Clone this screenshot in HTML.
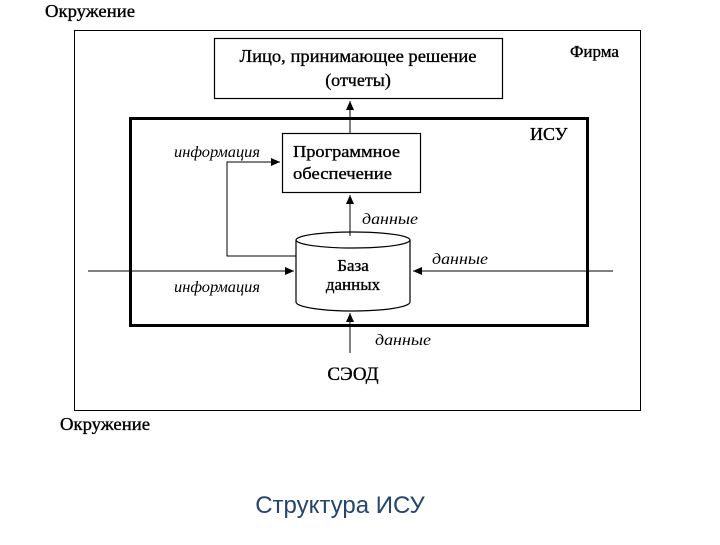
<!DOCTYPE html>
<html><head><meta charset="utf-8"><style>
body{margin:0;background:#fff;width:720px;height:540px;overflow:hidden}
</style></head><body>
<svg width="720" height="540" viewBox="0 0 720 540" xmlns="http://www.w3.org/2000/svg" font-family="'Liberation Serif', 'Noto Serif CJK SC', serif">
<defs><marker id="a" markerWidth="10" markerHeight="10" refX="9" refY="5" orient="auto" markerUnits="userSpaceOnUse"><path d="M0,1 L9,5 L0,9 z" fill="#000"/></marker></defs>
<g stroke="#000" stroke-width="0.35">
<text x="45" y="17" font-size="17.5" textLength="90" lengthAdjust="spacingAndGlyphs">Окружение</text>
<text x="358" y="62" font-size="18" text-anchor="middle" textLength="237" lengthAdjust="spacingAndGlyphs">Лицо, принимающее решение</text>
<text x="358" y="86" font-size="18" text-anchor="middle">(отчеты)</text>
<text x="570" y="57" font-size="17">Фирма</text>
<text x="530" y="140" font-size="18">ИСУ</text>
<text x="293" y="157" font-size="17" textLength="107" lengthAdjust="spacingAndGlyphs">Программное</text>
<text x="293" y="179" font-size="17" textLength="99" lengthAdjust="spacingAndGlyphs">обеспечение</text>
<text x="353" y="271" font-size="17" text-anchor="middle">База</text>
<text x="353" y="290" font-size="17" text-anchor="middle">данных</text>
<text x="353" y="380" font-size="19" text-anchor="middle">СЭОД</text>
<text x="60" y="430" font-size="17.5" textLength="90" lengthAdjust="spacingAndGlyphs">Окружение</text>
</g>
<rect x="74.5" y="30.5" width="566" height="380" fill="none" stroke="#000" stroke-width="1"/>
<rect x="214.5" y="38.5" width="288" height="60" fill="none" stroke="#000" stroke-width="1.2"/>
<rect x="130.5" y="118.5" width="457" height="207" fill="none" stroke="#000" stroke-width="3"/>
<rect x="282.5" y="133.5" width="138" height="59" fill="none" stroke="#000" stroke-width="1.2"/>
<line x1="350" y1="133" x2="350" y2="101" stroke="#000" marker-end="url(#a)"/>
<path d="M296,240 L296,302 A57,9 0 0 0 410,302 L410,240" fill="none" stroke="#000" stroke-width="1.2"/>
<ellipse cx="353" cy="240" rx="57" ry="8" fill="none" stroke="#000" stroke-width="1.2"/>
<line x1="350" y1="236" x2="350" y2="195" stroke="#000" marker-end="url(#a)"/>
<polyline points="296,256 227,256 227,162 280,162" fill="none" stroke="#000" marker-end="url(#a)"/>
<line x1="88" y1="271" x2="294" y2="271" stroke="#000" marker-end="url(#a)"/>
<line x1="613" y1="271" x2="413" y2="271" stroke="#000" marker-end="url(#a)"/>
<line x1="350" y1="353" x2="350" y2="313" stroke="#000" marker-end="url(#a)"/>
<g font-style="italic" font-size="16">
<text x="174" y="157" textLength="86" lengthAdjust="spacingAndGlyphs">информация</text>
<text x="362" y="224" textLength="56" lengthAdjust="spacingAndGlyphs">данные</text>
<text x="174" y="292" textLength="86" lengthAdjust="spacingAndGlyphs">информация</text>
<text x="432" y="264" textLength="56" lengthAdjust="spacingAndGlyphs">данные</text>
<text x="375" y="345" textLength="56" lengthAdjust="spacingAndGlyphs">данные</text>
</g>
<text x="340" y="513" font-size="24" text-anchor="middle" fill="#24456e" font-family="'Liberation Sans', sans-serif">Структура ИСУ</text>
</svg>
</body></html>
